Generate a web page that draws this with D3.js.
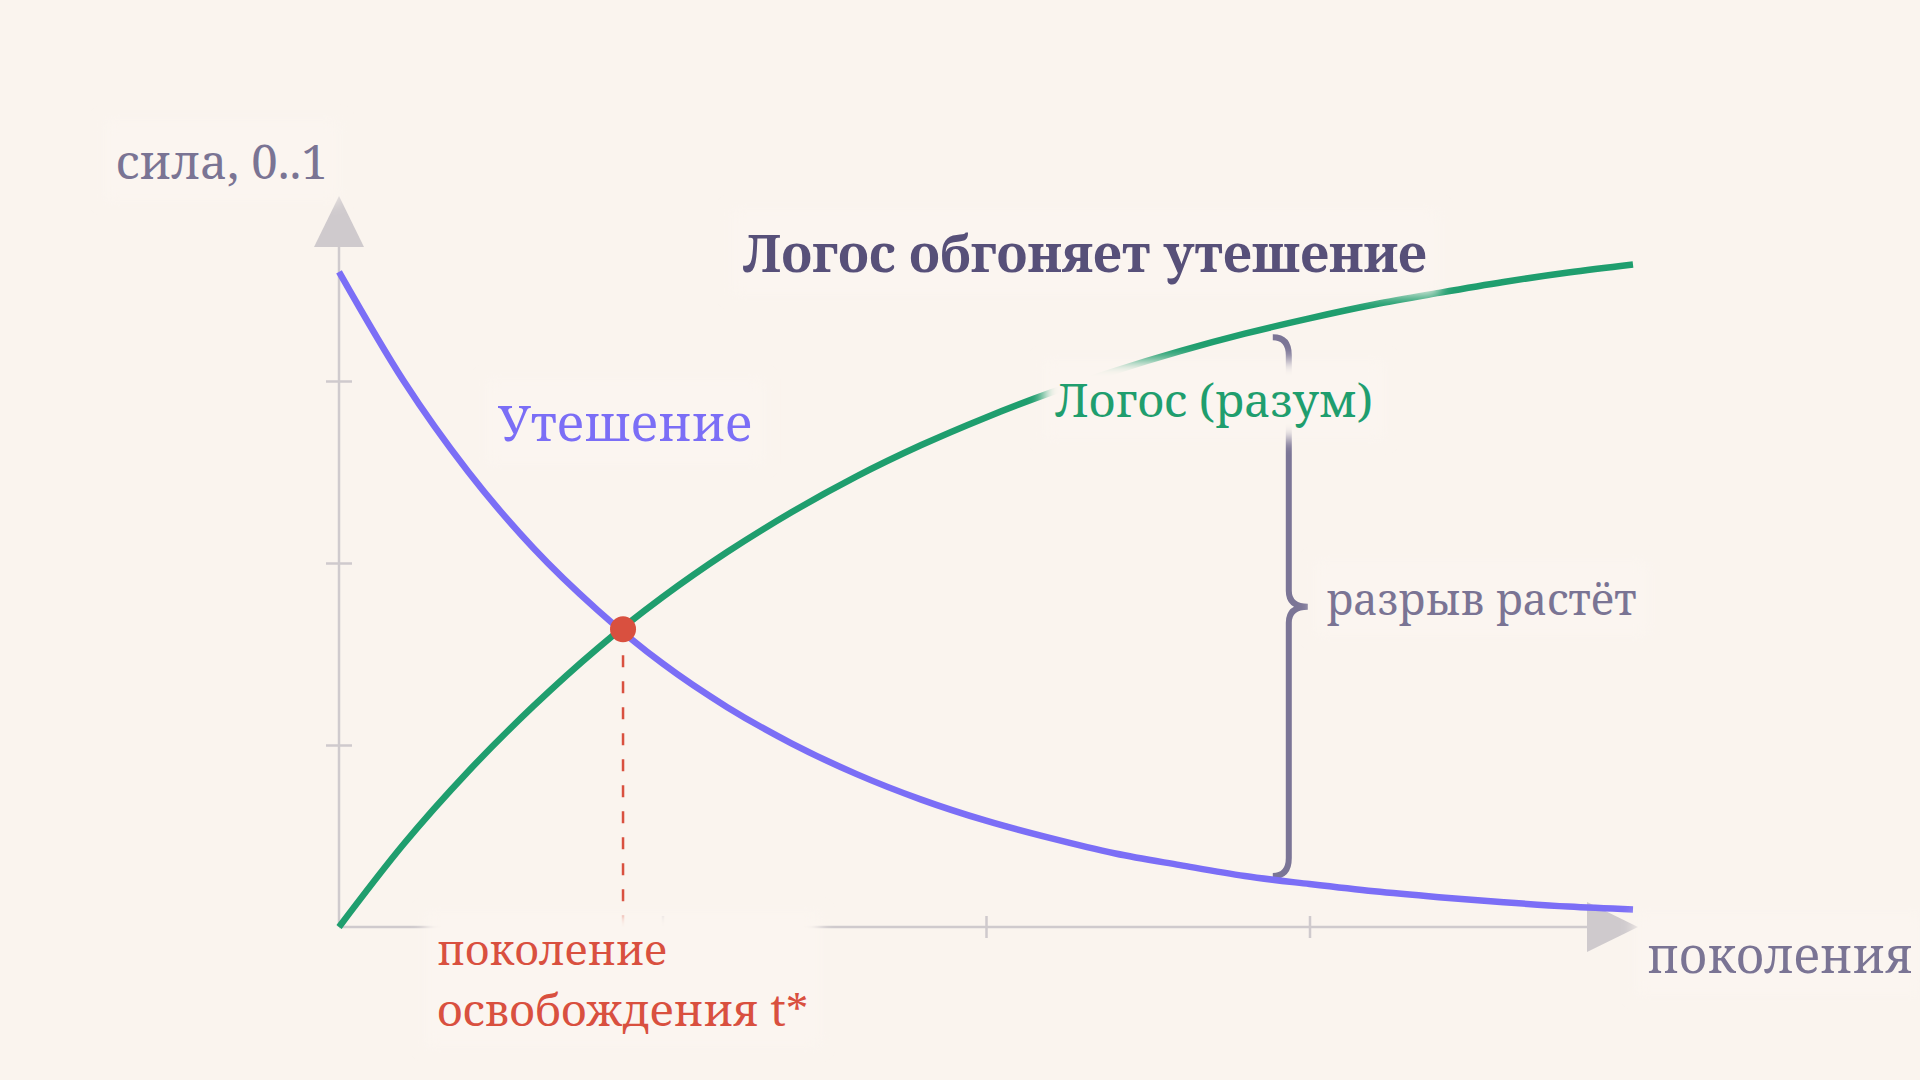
<!DOCTYPE html>
<html>
<head>
<meta charset="utf-8">
<script src="https://cdn.jsdelivr.net/npm/d3@7/dist/d3.min.js"></script>
<style>
  html, body { margin: 0; padding: 0; background: #faf4ee; }
  svg { display: block; }
  text { font-family: "Noto Serif", "DejaVu Serif", serif; }
</style>
</head>
<body>
<svg id="chart" width="1920" height="1080"></svg>
<script>
// generations along the x axis (0..1)
const gen = [0, 0.05, 0.1, 0.15, 0.2, 0.25, 0.3, 0.35, 0.4, 0.45, 0.5,
             0.55, 0.6, 0.65, 0.7, 0.75, 0.8, 0.85, 0.9, 0.95, 1];
// consolation fades, logos grows
const comfort = [0.900, 0.750, 0.625, 0.521, 0.435, 0.362, 0.302, 0.252, 0.210, 0.175, 0.146,
                 0.122, 0.101, 0.085, 0.070, 0.059, 0.049, 0.041, 0.034, 0.028, 0.024];
const logos = [0.000, 0.114, 0.214, 0.303, 0.383, 0.453, 0.515, 0.570, 0.619, 0.662, 0.700,
               0.734, 0.764, 0.791, 0.815, 0.836, 0.855, 0.871, 0.886, 0.899, 0.910];
const xTicks = [0.25, 0.5, 0.75];
const yTicks = [0.25, 0.5, 0.75];
// crossing point t*
const cross = { t: 0.2195, v: 0.409 };
// brace showing the gap
const gapAt = 0.734, gapTop = 0.81, gapBottom = 0.07;

const bg = '#faf4ee';
const axisColor = '#cfcacd';
const purple = '#7b6ef6', green = '#1f9e6e', red = '#d9503f', muted = '#7a7494', dark = '#575079';

const svg = d3.select('#chart');
svg.append('rect').attr('width', 1920).attr('height', 1080).attr('fill', bg);

const defs = svg.append('defs');
defs.append('filter').attr('id', 'soft')
    .attr('x', '-20%').attr('y', '-50%').attr('width', '140%').attr('height', '200%')
  .append('feGaussianBlur').attr('stdDeviation', 7);

const x = d3.scaleLinear().domain([0, 1]).range([339, 1633]);
const y = d3.scaleLinear().domain([0, 1]).range([927, 199]);

// axes: ticks cross the line, no tick labels
const xAxis = d3.axisBottom(x).tickValues(xTicks).tickFormat('').tickSizeOuter(0);
const gx = svg.append('g').attr('transform', `translate(0,${y(0)})`).call(xAxis);
gx.select('.domain').remove();
gx.selectAll('.tick line').attr('y1', -11).attr('y2', 11)
  .attr('stroke', axisColor).attr('stroke-width', 2.5);

const yAxis = d3.axisLeft(y).tickValues(yTicks).tickFormat('').tickSizeOuter(0);
const gy = svg.append('g').attr('transform', `translate(${x(0)},0)`).call(yAxis);
gy.select('.domain').remove();
gy.selectAll('.tick line').attr('x1', -13).attr('x2', 13)
  .attr('stroke', axisColor).attr('stroke-width', 2.5);

const x0 = x(0), y0 = y(0);
const xEnd = 1587, yEnd = 247, arrow = 25;
svg.append('line').attr('x1', x0).attr('y1', y0).attr('x2', xEnd).attr('y2', y0)
  .attr('stroke', axisColor).attr('stroke-width', 2.5);
svg.append('line').attr('x1', x0).attr('y1', y0).attr('x2', x0).attr('y2', yEnd)
  .attr('stroke', axisColor).attr('stroke-width', 2.5);
svg.append('path')
  .attr('d', `M${xEnd},${y0 - arrow}L${xEnd + 51},${y0}L${xEnd},${y0 + arrow}Z`)
  .attr('fill', axisColor);
svg.append('path')
  .attr('d', `M${x0 - arrow},${yEnd}L${x0},${yEnd - 51}L${x0 + arrow},${yEnd}Z`)
  .attr('fill', axisColor);

// gap brace
const bx = x(gapAt), bt = y(gapTop), bb = y(gapBottom), bm = (bt + bb) / 2;
svg.append('path')
  .attr('d', `M${bx - 16},${bt}Q${bx},${bt} ${bx},${bt + 18}L${bx},${bm - 16}` +
             `Q${bx},${bm} ${bx + 19},${bm}Q${bx},${bm} ${bx},${bm + 16}` +
             `L${bx},${bb - 18}Q${bx},${bb} ${bx - 16},${bb}`)
  .attr('fill', 'none').attr('stroke', '#7b7596').attr('stroke-width', 6);

// curves
const line = d3.line().x(d => x(d[0])).y(d => y(d[1])).curve(d3.curveMonotoneX);
svg.append('path').datum(gen.map((g, i) => [g, logos[i]])).attr('d', line)
  .attr('fill', 'none').attr('stroke', green).attr('stroke-width', 6.5);
svg.append('path').datum(gen.map((g, i) => [g, comfort[i]])).attr('d', line)
  .attr('fill', 'none').attr('stroke', purple).attr('stroke-width', 6.5);

// t* marker
svg.append('line').attr('x1', x(cross.t)).attr('x2', x(cross.t))
  .attr('y1', y(cross.v)).attr('y2', y(0))
  .attr('stroke', red).attr('stroke-width', 2.5).attr('stroke-dasharray', '12 14');
svg.append('circle').attr('cx', x(cross.t)).attr('cy', y(cross.v)).attr('r', 13).attr('fill', red);

// labels sit on a soft halo that hides what runs under them
function label(lines, lx, ly, color, sizes, weight, lead) {
  const g = svg.append('g');
  const halo = g.append('rect').attr('fill', '#fbf5f0').attr('filter', 'url(#soft)');
  const t = g.append('text').attr('fill', color).attr('font-weight', weight || 'normal');
  lines.forEach((s, i) => {
    t.append('tspan').attr('x', lx).attr('y', ly + i * (lead || 0)).attr('font-size', sizes[i]).text(s);
  });
  const b = t.node().getBBox();
  halo.attr('x', b.x - 12).attr('y', b.y - 8).attr('width', b.width + 24).attr('height', b.height + 16);
  return t;
}
label(['сила, 0..1'], 116, 179, muted, [47.3]);
label(['Логос обгоняет утешение'], 743, 272, dark, [51.1], 'bold');
label(['Утешение'], 498, 441, purple, [50.1]);
label(['Логос (разум)'], 1055, 417, green, [46.2]);
label(['разрыв растёт'], 1326, 615, muted, [42.9]);
label(['поколения'], 1647, 973, muted, [48.6]);
label(['поколение', 'освобождения t*'], 437, 965, red, [42.3, 44.5], 'normal', 61);
</script>
</body>
</html>
